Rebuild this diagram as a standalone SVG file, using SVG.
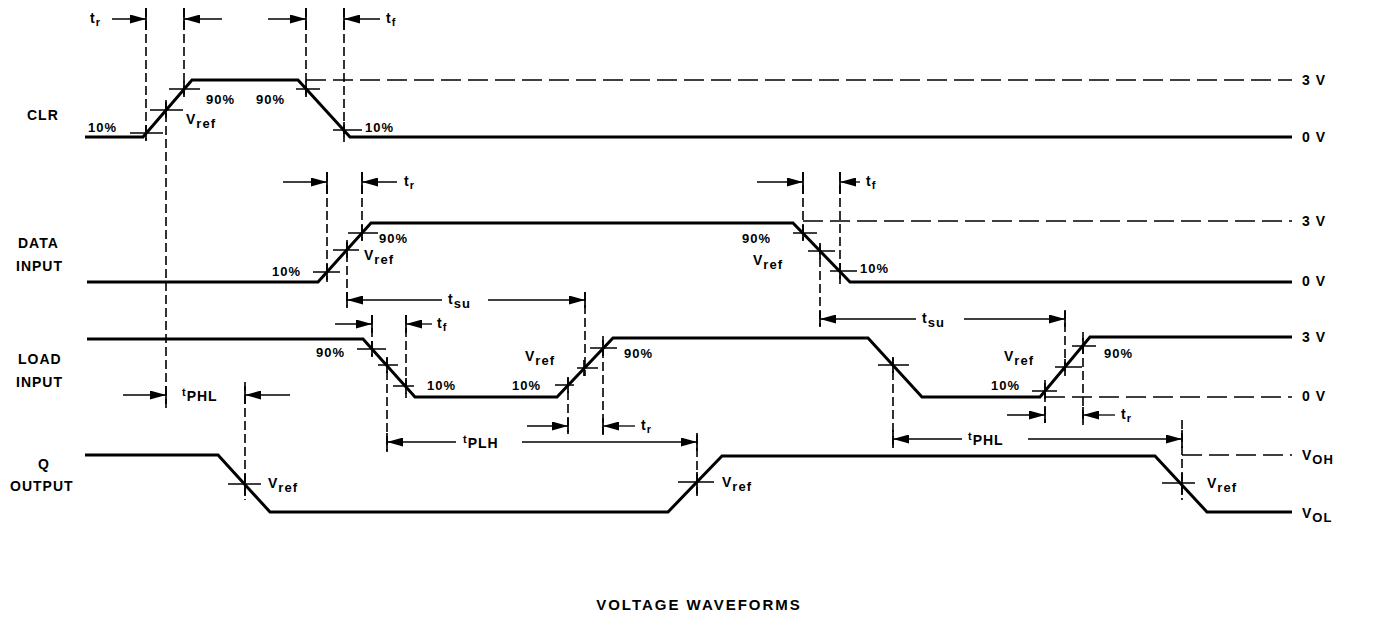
<svg xmlns="http://www.w3.org/2000/svg" width="1377" height="639" viewBox="0 0 1377 639">
<defs>
<marker id="ah" viewBox="0 0 16 9" refX="16" refY="4.5" markerWidth="16" markerHeight="9" markerUnits="userSpaceOnUse" orient="auto">
<path d="M0,0 L16,4.5 L0,9 z" fill="#000"/>
</marker>
<style>
.w{stroke:#000;stroke-width:3;fill:none;stroke-linejoin:miter}
.dv{stroke:#000;stroke-width:1.6;stroke-dasharray:9 4;fill:none}
.dh{stroke:#000;stroke-width:1.6;stroke-dasharray:20 7;fill:none}
.ar{stroke:#000;stroke-width:1.3;fill:none;marker-end:url(#ah)}
.tk{stroke:#000;stroke-width:1.7}
text{font-family:"Liberation Sans",Arial,sans-serif;font-weight:bold;fill:#000;letter-spacing:1px}
.lb{font-size:14px}
.sm{font-size:13px}
.sb{font-size:11px}
.tt{font-size:15px;letter-spacing:2px}
</style>
</defs>
<rect width="1377" height="639" fill="#fff"/>

<g id="labels-left">
<text class="lb" x="27" y="120">CLR</text>
<text class="lb" x="18" y="248">DATA</text>
<text class="lb" x="16" y="271">INPUT</text>
<text class="lb" x="18" y="364">LOAD</text>
<text class="lb" x="16" y="387">INPUT</text>
<text class="lb" x="38" y="469">Q</text>
<text class="lb" x="10" y="491">OUTPUT</text>
</g>

<g id="labels-right">
<text class="lb" x="1302" y="85">3 V</text>
<text class="lb" x="1302" y="142">0 V</text>
<text class="lb" x="1302" y="226">3 V</text>
<text class="lb" x="1302" y="286">0 V</text>
<text class="lb" x="1302" y="342">3 V</text>
<text class="lb" x="1302" y="401">0 V</text>
<text class="lb" x="1302" y="460">V<tspan class="sm" dy="4">OH</tspan></text>
<text class="lb" x="1302" y="518">V<tspan class="sm" dy="4">OL</tspan></text>
</g>

<g id="waveforms">
<path id="clr" class="w" d="M85,137 L143,137 L192,80 L298,80 L350,137 L1292,137"/>
<path id="data" class="w" d="M87,282 L318,282 L371,223 L793,223 L850,282 L1292,282"/>
<path id="load" class="w" d="M87,339 L363,339 L415,397 L557,397 L613,338 L868,338 L922,397 L1040,397 L1090,337 L1292,337"/>
<path id="q" class="w" d="M85,455 L218,455 L270,512 L668,512 L722,456 L1155,456 L1207,512 L1292,512"/>
</g>

<g id="connectors">
<line class="dh" x1="306" y1="80" x2="1292" y2="80"/>
<line class="dh" x1="803" y1="221" x2="1292" y2="221"/>
<line class="dh" x1="1045" y1="397" x2="1292" y2="397"/>
<line class="dh" x1="1182" y1="455" x2="1292" y2="455"/>
<line class="dv" x1="146" y1="8" x2="146" y2="140"/>
<line class="dv" x1="166" y1="100" x2="166" y2="408"/>
<line class="dv" x1="184" y1="8" x2="184" y2="96"/>
<line class="dv" x1="306" y1="8" x2="306" y2="96"/>
<line class="dv" x1="344" y1="8" x2="344" y2="142"/>
<line class="dv" x1="327" y1="172" x2="327" y2="282"/>
<line class="dv" x1="347" y1="240" x2="347" y2="306"/>
<line class="dv" x1="362" y1="172" x2="362" y2="240"/>
<line class="dv" x1="803" y1="172" x2="803" y2="240"/>
<line class="dv" x1="820" y1="245" x2="820" y2="326"/>
<line class="dv" x1="840" y1="172" x2="840" y2="284"/>
<line class="dv" x1="585" y1="292" x2="585" y2="376"/>
<line class="dv" x1="1065" y1="310" x2="1065" y2="376"/>
<line class="dv" x1="372" y1="315" x2="372" y2="356"/>
<line class="dv" x1="387" y1="358" x2="387" y2="452"/>
<line class="dv" x1="406" y1="315" x2="406" y2="398"/>
<line class="dv" x1="568" y1="378" x2="568" y2="432"/>
<line class="dv" x1="603" y1="336" x2="603" y2="435"/>
<line class="dv" x1="893" y1="358" x2="893" y2="446"/>
<line class="dv" x1="1045" y1="380" x2="1045" y2="423"/>
<line class="dv" x1="1083" y1="332" x2="1083" y2="425"/>
<line class="dv" x1="245" y1="382" x2="245" y2="500"/>
<line class="dv" x1="697" y1="435" x2="697" y2="500"/>
<line class="dv" x1="1182" y1="420" x2="1182" y2="500"/>
<path class="tk" d="M130,133 H163 M146,125 V141 M150,110 H183 M166,102 V118 M169,89 H200 M184,81 V97 M296,89 H320 M306,81 V97 M333,130 H362 M344,122 V138"/>
<path class="tk" d="M313,272 H340 M327,264 V280 M333,250 H359 M347,242 V258 M348,233 H378 M362,225 V241 M793,233 H817 M803,225 V241 M808,251 H835 M820,243 V259 M830,271 H857 M840,263 V279"/>
<path class="tk" d="M357,349 H386 M372,341 V357 M378,365 H398 M387,357 V373 M393,386 H414 M406,378 V394 M555,385 H574 M568,377 V393 M577,368 H598 M584,360 V376 M590,348 H617 M603,340 V356 M878,365 H909 M893,357 V373 M1032,391 H1057 M1045,383 V399 M1055,367 H1082 M1065,359 V375 M1072,346 H1096 M1083,338 V354"/>
<path class="tk" d="M228,484 H261 M245,474 V496 M678,482 H714 M697,472 V494 M1162,483 H1195 M1182,473 V495"/>
<path class="tk" d="M146,8 V30 M184,8 V30 M306,8 V30 M344,8 V30 M327,172 V194 M362,172 V194 M803,172 V194 M840,172 V194 M347,292 V308 M585,292 V308 M820,311 V327 M1065,311 V327 M372,315 V333 M406,315 V333 M166,386 V404 M245,386 V404 M568,418 V434 M603,418 V434 M1045,407 V423 M1083,407 V423 M387,433 V451 M697,433 V451 M893,430 V448 M1182,430 V448"/>
<line class="ar" x1="112" y1="19" x2="146" y2="19"/>
<line class="ar" x1="222" y1="19" x2="184" y2="19"/>
<line class="ar" x1="268" y1="19" x2="306" y2="19"/>
<line class="ar" x1="380" y1="19" x2="344" y2="19"/>
<line class="ar" x1="283" y1="182" x2="327" y2="182"/>
<line class="ar" x1="397" y1="182" x2="362" y2="182"/>
<line class="ar" x1="757" y1="182" x2="803" y2="182"/>
<line class="ar" x1="860" y1="182" x2="840" y2="182"/>
<line class="ar" x1="442" y1="300" x2="347" y2="300"/>
<line class="ar" x1="488" y1="300" x2="585" y2="300"/>
<line class="ar" x1="916" y1="319" x2="820" y2="319"/>
<line class="ar" x1="964" y1="319" x2="1065" y2="319"/>
<line class="ar" x1="335" y1="324" x2="372" y2="324"/>
<line class="ar" x1="432" y1="324" x2="406" y2="324"/>
<line class="ar" x1="123" y1="395" x2="166" y2="395"/>
<line class="ar" x1="290" y1="395" x2="245" y2="395"/>
<line class="ar" x1="527" y1="426" x2="568" y2="426"/>
<line class="ar" x1="635" y1="426" x2="603" y2="426"/>
<line class="ar" x1="1007" y1="415" x2="1045" y2="415"/>
<line class="ar" x1="1115" y1="415" x2="1083" y2="415"/>
<line class="ar" x1="456" y1="442" x2="387" y2="442"/>
<line class="ar" x1="522" y1="442" x2="697" y2="442"/>
<line class="ar" x1="962" y1="439" x2="893" y2="439"/>
<line class="ar" x1="1028" y1="439" x2="1182" y2="439"/>
</g>

<g id="timing-labels">
<text class="lb" x="90" y="23">t<tspan class="sb" dy="3">r</tspan></text>
<text class="lb" x="386" y="23">t<tspan class="sb" dy="3">f</tspan></text>
<text class="lb" x="404" y="186">t<tspan class="sb" dy="3">r</tspan></text>
<text class="lb" x="866" y="186">t<tspan class="sb" dy="3">f</tspan></text>
<text class="lb" x="448" y="304">t<tspan class="sm" dy="4">su</tspan></text>
<text class="lb" x="922" y="323">t<tspan class="sm" dy="4">su</tspan></text>
<text class="lb" x="437" y="328">t<tspan class="sb" dy="3">f</tspan></text>
<text class="lb" x="641" y="430">t<tspan class="sb" dy="3">r</tspan></text>
<text class="lb" x="1121" y="419">t<tspan class="sb" dy="3">r</tspan></text>
<text class="sb" x="182" y="396">t<tspan class="lb" dy="5">PHL</tspan></text>
<text class="sb" x="463" y="443">t<tspan class="lb" dy="5">PLH</tspan></text>
<text class="sb" x="968" y="440">t<tspan class="lb" dy="5">PHL</tspan></text>
</g>

<g id="level-labels">
<text class="sm" x="88" y="132">10%</text>
<text class="lb" x="186" y="124">V<tspan class="sm" dy="4">ref</tspan></text>
<text class="sm" x="206" y="104">90%</text>
<text class="sm" x="256" y="104">90%</text>
<text class="sm" x="365" y="132">10%</text>
<text class="sm" x="272" y="276">10%</text>
<text class="lb" x="364" y="260">V<tspan class="sm" dy="4">ref</tspan></text>
<text class="sm" x="379" y="243">90%</text>
<text class="sm" x="742" y="243">90%</text>
<text class="lb" x="753" y="265">V<tspan class="sm" dy="4">ref</tspan></text>
<text class="sm" x="860" y="273">10%</text>
<text class="sm" x="316" y="357">90%</text>
<text class="sm" x="427" y="390">10%</text>
<text class="lb" x="525" y="361">V<tspan class="sm" dy="4">ref</tspan></text>
<text class="sm" x="512" y="390">10%</text>
<text class="sm" x="624" y="358">90%</text>
<text class="lb" x="1004" y="361">V<tspan class="sm" dy="4">ref</tspan></text>
<text class="sm" x="991" y="390">10%</text>
<text class="sm" x="1104" y="358">90%</text>
<text class="lb" x="268" y="488">V<tspan class="sm" dy="4">ref</tspan></text>
<text class="lb" x="722" y="487">V<tspan class="sm" dy="4">ref</tspan></text>
<text class="lb" x="1207" y="488">V<tspan class="sm" dy="4">ref</tspan></text>
</g>

<text id="title" class="tt" x="699" y="610" text-anchor="middle">VOLTAGE WAVEFORMS</text>
</svg>
